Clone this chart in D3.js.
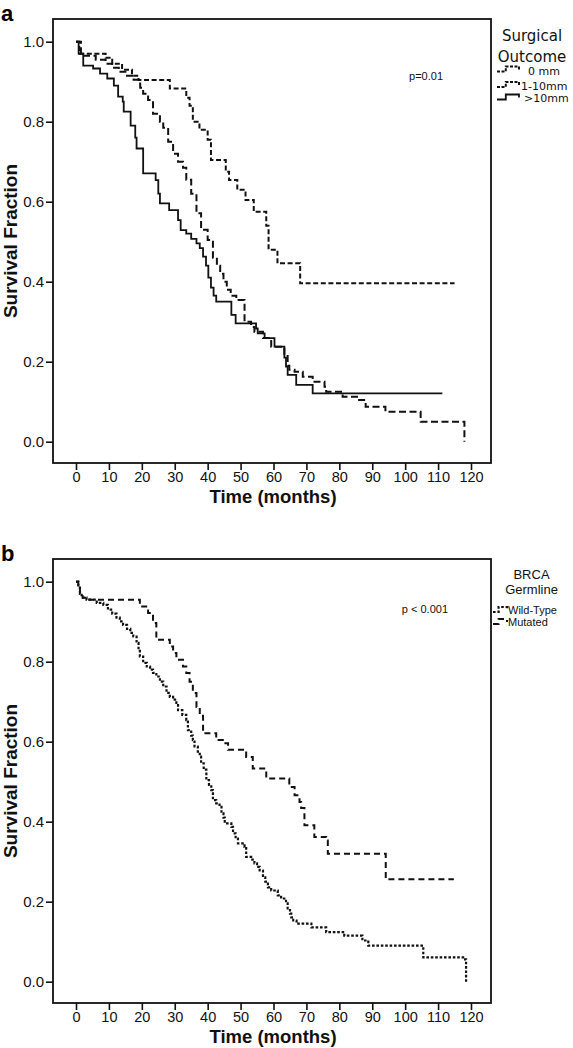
<!DOCTYPE html>
<html>
<head>
<meta charset="utf-8">
<script src="https://cdn.jsdelivr.net/npm/d3@7"></script>
<style>
  html, body { margin: 0; padding: 0; background: #fff; }
  svg { display: block; }
</style>
</head>
<body>
<svg id="chart" width="573" height="1048"></svg>
<script>
// ---------------- DATA ----------------
const xTicks = [0, 10, 20, 30, 40, 50, 60, 70, 80, 90, 100, 110, 120];
const yTicks = [0.0, 0.2, 0.4, 0.6, 0.8, 1.0];

// Panel a: Surgical Outcome  [time (months), survival fraction]
const outcome0mm = [[0,1.0],[1,0.97],[9,0.96],[11,0.945],[14,0.93],[17,0.915],[19,0.904],[28.5,0.883],
  [33.5,0.86],[34.5,0.84],[35.5,0.80],[37.5,0.78],[40,0.755],[41,0.704],[45.5,0.675],[46.5,0.654],
  [49,0.63],[51.5,0.604],[54,0.575],[57.8,0.54],[58.5,0.48],[61.2,0.446],[68.1,0.396]];
const outcome0mmEnd = 115;

const outcome1to10 = [[0,1.0],[1.5,0.965],[6,0.955],[9,0.945],[11,0.935],[13,0.925],[15,0.915],[17.5,0.905],
  [19.5,0.885],[20.4,0.87],[21.9,0.854],[23.4,0.82],[25.5,0.80],[26.5,0.785],[28,0.75],[29.5,0.72],
  [31,0.70],[32.5,0.685],[33.5,0.655],[35,0.62],[36.6,0.571],[38,0.53],[40,0.504],[41.6,0.46],
  [42.8,0.44],[43.8,0.42],[44.8,0.40],[45.8,0.38],[47,0.365],[48.7,0.354],[51.2,0.30],[53.2,0.287],
  [54.2,0.275],[56.8,0.259],[59.3,0.2375],[63.3,0.217],[64.3,0.19],[64.8,0.18],[66.4,0.175],
  [68.9,0.1625],[71.9,0.15],[75.5,0.1375],[76,0.125],[81,0.1125],[86,0.104],[88,0.0875],
  [94,0.075],[104.7,0.05],[118,0.0]];
const outcome1to10End = 118;

const outcomeOver10 = [[0,1.0],[0.8,0.97],[2.2,0.94],[5.2,0.933],[7.3,0.92],[9.5,0.908],[11.5,0.89],
  [12.8,0.8625],[14.2,0.85],[14.5,0.825],[16.6,0.79],[18,0.76],[18.4,0.733],[20.4,0.671],[24.2,0.654],
  [25,0.62],[25.5,0.596],[28.3,0.579],[31,0.554],[31.8,0.529],[33.5,0.52],[35,0.507],[36.6,0.496],
  [37.6,0.484],[38.6,0.4625],[39.5,0.44],[40.2,0.41],[41,0.385],[41.8,0.365],[42.6,0.35],[47.2,0.317],
  [48.5,0.296],[54.7,0.283],[55.2,0.271],[57.3,0.259],[60.3,0.2375],[63.3,0.21],[63.8,0.1875],
  [64.3,0.167],[66.9,0.142],[71.9,0.121]];
const outcomeOver10End = 111.3;

// Panel b: BRCA Germline
const wildType = [[0,1.0],[0.7,0.985],[1.2,0.971],[1.7,0.96],[3.2,0.955],[6.3,0.947],[8.3,0.942],
  [9.7,0.93],[11,0.92],[12.3,0.91],[13.3,0.901],[14.3,0.892],[15.5,0.882],[16.5,0.872],[17.4,0.863],
  [18.4,0.847],[19,0.83],[19.4,0.813],[20.4,0.797],[21.5,0.788],[22.5,0.78],[23.4,0.772],[24.4,0.763],
  [25.5,0.75],[26.5,0.738],[27.5,0.722],[28.5,0.712],[29.5,0.705],[30.5,0.697],[31,0.679],[32.3,0.667],
  [33.5,0.654],[34,0.629],[35,0.615],[35.5,0.604],[36,0.588],[37,0.575],[37.6,0.563],[38,0.546],
  [38.8,0.53],[39.6,0.504],[40.4,0.492],[41.1,0.479],[41.6,0.454],[42.6,0.446],[43.6,0.437],
  [44.2,0.421],[44.8,0.41],[45.2,0.396],[47.2,0.387],[47.7,0.371],[48.5,0.358],[49.2,0.346],
  [51.2,0.337],[51.7,0.312],[53.2,0.305],[54.2,0.296],[55,0.287],[55.8,0.278],[56.8,0.261],
  [57.5,0.25],[58.3,0.236],[59.3,0.228],[61.3,0.216],[62.3,0.208],[63.8,0.196],[64.3,0.183],
  [65,0.17],[65.4,0.161],[66,0.153],[67,0.145],[71.5,0.136],[76,0.124],[81.5,0.115],[87,0.103],
  [88.8,0.09],[105.5,0.061],[118.2,0.056],[118.5,0.0]];
const wildTypeEnd = 118.5;

const mutated = [[0,1.0],[0.7,0.985],[1.2,0.97],[2,0.96],[4,0.955],[19.4,0.938],[21.9,0.922],
  [23.4,0.897],[24.4,0.855],[28.5,0.838],[29.5,0.822],[30.5,0.805],[32.5,0.788],[33.5,0.772],
  [34.5,0.75],[35.5,0.722],[36.6,0.687],[37.6,0.665],[38.6,0.621],[42.6,0.604],[44.6,0.596],
  [46.2,0.58],[51.7,0.562],[53.7,0.533],[57.8,0.508],[64.8,0.487],[66.4,0.466],[67.9,0.449],
  [68.4,0.434],[69.4,0.391],[72.4,0.362],[76,0.353],[76.5,0.32],[94.1,0.256]];
const mutatedEnd = 114.8;

// ---------------- DRAW ----------------
const svg = d3.select("#chart");
const FONT = "'Liberation Sans', Arial, Helvetica, sans-serif";

const panels = [
  {
    letter: "a", off: 0,
    pText: "p=0.01", pX: 443, pY: 80,
    title: ["Surgical", "Outcome"], titleFont: "'DejaVu Sans', sans-serif", titleSize: 15,
    titleY: [40.7, 61.7], titleX: 532,
    itemFont: "'DejaVu Sans', sans-serif", itemSize: 11,
    series: [
      {data: outcome0mm, end: outcome0mmEnd, dash: "5,2.6", width: 2, label: "0 mm", lx: 528, ly: 75, iy: 71.5},
      {data: outcome1to10, end: outcome1to10End, dash: "7,3.5", width: 2, label: "1-10mm", lx: 521, ly: 90, iy: 87},
      {data: outcomeOver10, end: outcomeOver10End, dash: null, width: 1.8, label: ">10mm", lx: 524, ly: 101.7, iy: 99.5}
    ],
    iconX: 497, iconW: 22
  },
  {
    letter: "b", off: 540,
    pText: "p < 0.001", pX: 448, pY: 613,
    title: ["BRCA", "Germline"], titleFont: FONT, titleSize: 13,
    titleY: [579, 594], titleX: 531.5,
    itemFont: FONT, itemSize: 11,
    series: [
      {data: wildType, end: wildTypeEnd, dash: "2.6,1.8", width: 2.2, label: "Wild-Type", lx: 508, ly: 614, iy: 612},
      {data: mutated, end: mutatedEnd, dash: "6,4", width: 2, label: "Mutated", lx: 508, ly: 626, iy: 624}
    ],
    iconX: 493, iconW: 14
  }
];

const x = d3.scaleLinear().domain([0, 120]).range([76, 471]);

panels.forEach(p => {
  const off = p.off;
  const y = d3.scaleLinear().domain([0, 1]).range([441.7 + off, 41.7 + off]);
  const g = svg.append("g");

  // panel letter
  g.append("text").attr("x", 1).attr("y", 21 + off)
    .attr("font-family", FONT).attr("font-weight", "bold").attr("font-size", 22)
    .text(p.letter);

  // frame
  const fx0 = 53, fx1 = 491, fy0 = 19 + off, fy1 = 463 + off;
  g.append("rect").attr("x", fx0).attr("y", fy0).attr("width", fx1 - fx0).attr("height", fy1 - fy0)
    .attr("fill", "none").attr("stroke", "#111").attr("stroke-width", 1.8);

  // axes
  const xAxis = d3.axisBottom(x).tickValues(xTicks).tickSize(7).tickPadding(2).tickFormat(d3.format("d"));
  const gx = g.append("g").attr("transform", `translate(0,${fy1})`).call(xAxis);
  gx.select(".domain").remove();
  gx.selectAll("line").attr("stroke", "#111").attr("stroke-width", 1.6);
  gx.selectAll("text").attr("font-family", FONT).attr("font-size", 14.5).attr("fill", "#111");

  const yAxis = d3.axisLeft(y).tickValues(yTicks).tickSize(7).tickPadding(2).tickFormat(d3.format(".1f"));
  const gy = g.append("g").attr("transform", `translate(${fx0},0)`).call(yAxis);
  gy.select(".domain").remove();
  gy.selectAll("line").attr("stroke", "#111").attr("stroke-width", 1.6);
  gy.selectAll("text").attr("font-family", FONT).attr("font-size", 15).attr("fill", "#111");

  // axis titles
  g.append("text").attr("x", (x(0) + x(120)) / 2 - 0.5).attr("y", 502.5 + off)
    .attr("text-anchor", "middle").attr("font-family", FONT).attr("font-weight", "bold")
    .attr("font-size", 18.5).attr("fill", "#111").text("Time (months)");
  g.append("text").attr("transform", `translate(17,${241 + off}) rotate(-90)`)
    .attr("text-anchor", "middle").attr("font-family", FONT).attr("font-weight", "bold")
    .attr("font-size", 19).attr("fill", "#111").text("Survival Fraction");

  // p-value
  g.append("text").attr("x", p.pX).attr("y", p.pY).attr("text-anchor", "end")
    .attr("font-family", FONT).attr("font-size", 11).attr("fill", "#111").text(p.pText);

  // curves
  const line = d3.line().x(d => x(d[0])).y(d => y(d[1])).curve(d3.curveStepAfter);
  p.series.forEach(s => {
    const pts = s.data.slice();
    const last = pts[pts.length - 1];
    if (last[0] < s.end) pts.push([s.end, last[1]]);
    g.append("path").attr("d", line(pts)).attr("fill", "none").attr("stroke", "#111")
      .attr("stroke-width", s.width).attr("stroke-dasharray", s.dash);
  });

  // legend title
  p.title.forEach((t, i) => {
    g.append("text").attr("x", p.titleX).attr("y", p.titleY[i]).attr("text-anchor", "middle")
      .attr("font-family", p.titleFont).attr("font-size", p.titleSize).attr("fill", "#111").text(t);
  });

  // legend items
  p.series.forEach(s => {
    const x0 = p.iconX, w = p.iconW, yb = s.iy;
    const path = `M${x0},${yb}H${x0 + w * 0.4}V${yb - 5}H${x0 + w}V${yb - 2}`;
    g.append("path").attr("d", path).attr("fill", "none").attr("stroke", "#111")
      .attr("stroke-width", s.width).attr("stroke-dasharray", s.dash ? (p.letter === "a" ? "3,1.5" : s.dash) : null);
    g.append("text").attr("x", s.lx).attr("y", s.ly).attr("font-family", p.itemFont)
      .attr("font-size", p.itemSize).attr("fill", "#111").text(s.label);
  });
});
</script>
</body>
</html>
